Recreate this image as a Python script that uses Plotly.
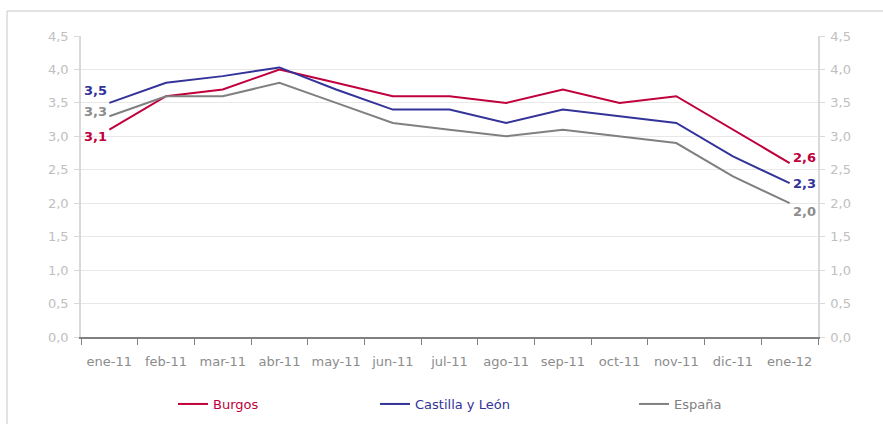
import plotly.graph_objects as go

months = ["ene-11", "feb-11", "mar-11", "abr-11", "may-11", "jun-11", "jul-11",
          "ago-11", "sep-11", "oct-11", "nov-11", "dic-11", "ene-12"]
burgos = [3.1, 3.6, 3.7, 4.0, 3.8, 3.6, 3.6, 3.5, 3.7, 3.5, 3.6, 3.1, 2.6]
cyl = [3.5, 3.8, 3.9, 4.03, 3.7, 3.4, 3.4, 3.2, 3.4, 3.3, 3.2, 2.7, 2.3]
espana = [3.3, 3.6, 3.6, 3.8, 3.5, 3.2, 3.1, 3.0, 3.1, 3.0, 2.9, 2.4, 2.0]
y_ticks = [0, 0.5, 1.0, 1.5, 2.0, 2.5, 3.0, 3.5, 4.0, 4.5]

RED = "#C0003C"
BLUE = "#333399"
GRAY = "#808080"
FONT = "DejaVu Sans"

series = [
    ("Burgos", burgos, RED, "legend", RED),
    ("Castilla y León", cyl, BLUE, "legend2", BLUE),
    ("España", espana, GRAY, "legend3", "#8c8c8c"),
]

fig = go.Figure()
annotations = []
for name, vals, col, leg, lab in series:
    fig.add_trace(go.Scatter(
        x=months, y=vals, mode="lines",
        line=dict(color=col, width=2),
        name=f"<span style='color:{col}'>{name}</span>",
        legend=leg,
    ))
# data labels at first and last points
label_shifts = {
    "Burgos": (-7, 6),
    "Castilla y León": (12, 0),
    "España": (5, -8),
}
for name, vals, col, leg, lab in series:
    fs, ls = label_shifts[name]
    annotations.append(dict(
        x=months[0], y=vals[0], text="<b>" + f"{vals[0]:.1f}".replace(".", ",") + "</b>",
        xanchor="right", yanchor="middle", showarrow=False, yshift=fs, xshift=0,
        font=dict(family=FONT, size=13, color=lab),
    ))
    annotations.append(dict(
        x=months[-1], y=vals[-1], text="<b>" + f"{vals[-1]:.1f}".replace(".", ",") + "</b>",
        xanchor="left", yanchor="middle", showarrow=False, yshift=ls, xshift=1,
        font=dict(family=FONT, size=13, color=lab),
    ))

# invisible trace to anchor the right axis
fig.add_trace(go.Scatter(x=months, y=espana, yaxis="y2", mode="lines",
                         line=dict(width=0, color="rgba(0,0,0,0)"),
                         showlegend=False, hoverinfo="skip"))

axis_common = dict(
    range=[0, 4.5], tickvals=y_ticks, tickformat=".1f",
    showline=True, linecolor="#d9d9d9", linewidth=1.5,
    ticks="outside", ticklen=5, tickcolor="#d9d9d9",
    tickfont=dict(family=FONT, size=13, color="#c0c0c0"),
    zeroline=False, automargin=False, ticklabelstandoff=3,
)

W, H = 883, 424
L, R, T, B = 81, 65, 36, 87
pw, ph = W - L - R, H - T - B

def px(x):
    return (x - L) / pw

def py(y):
    return (H - B - y) / ph

fig.update_layout(
    width=W, height=H,
    margin=dict(l=L, r=R, t=T, b=B, autoexpand=False),
    paper_bgcolor="white", plot_bgcolor="white",
    separators=", ",
    font=dict(family=FONT, size=13, color=GRAY),
    xaxis=dict(
        type="category", range=[-0.5, 12.5], tickangle=0,
        showline=True, linecolor="#808080", linewidth=1.5,
        ticks="outside", tickson="boundaries", ticklen=6, tickcolor="#808080",
        tickfont=dict(family=FONT, size=13, color="#8c8c8c"),
        showgrid=False, ticklabelstandoff=12, automargin=False,
    ),
    yaxis=dict(**axis_common, showgrid=True, gridcolor="#e8e8e8", gridwidth=1),
    yaxis2=dict(**axis_common, overlaying="y", side="right", showgrid=False),
    annotations=annotations,
    legend=dict(x=px(173), y=py(404), xanchor="left", yanchor="middle",
                orientation="h", font=dict(family=FONT, size=13), bgcolor="rgba(0,0,0,0)"),
    legend2=dict(x=px(375), y=py(404), xanchor="left", yanchor="middle",
                 orientation="h", font=dict(family=FONT, size=13), bgcolor="rgba(0,0,0,0)"),
    legend3=dict(x=px(634), y=py(404), xanchor="left", yanchor="middle",
                 orientation="h", font=dict(family=FONT, size=13), bgcolor="rgba(0,0,0,0)"),
    shapes=[dict(type="rect", xref="paper", yref="paper",
                 x0=px(7), x1=px(900), y0=py(440), y1=py(11),
                 line=dict(color="#c8c8c8", width=1), fillcolor="rgba(0,0,0,0)",
                 layer="below")],
    showlegend=True,
)

fig.write_html("out.html", config={"displayModeBar": False},
               post_script="document.body.style.margin='0';")
